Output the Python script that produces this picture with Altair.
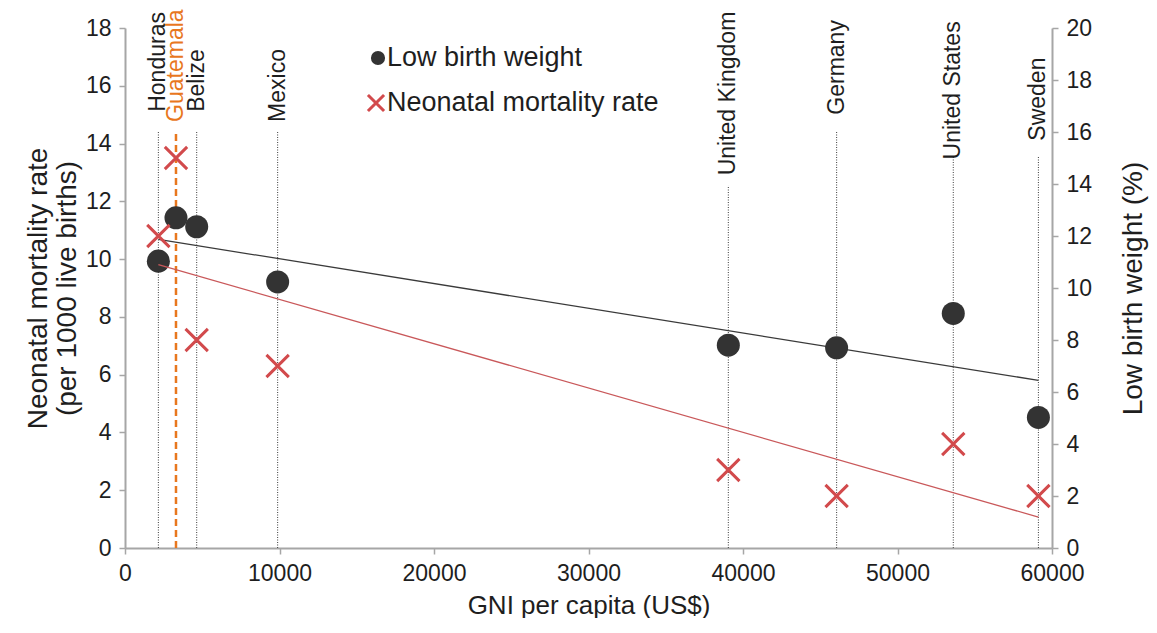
import altair as alt
import pandas as pd

# ---- data ----
countries = ["Honduras", "Guatemala", "Belize", "Mexico",
             "United Kingdom", "Germany", "United States", "Sweden"]
gni_per_capita = [2160, 3300, 4640, 9880, 39050, 46060, 53610, 59120]
low_birth_weight = [9.93, 11.43, 11.12, 9.21, 7.02, 6.93, 8.12, 4.52]   # drawn on the 0-18 scale
neonatal_mortality = [12, 15, 8, 7, 3, 2, 4, 2]                          # drawn on the 0-20 scale
legend_labels = ["Low birth weight", "Neonatal mortality rate"]

# annotation placement (left-axis units): where each label starts / where its guide line stops
label_anchor = [15.1, 14.75, 15.1, 14.75, 12.9, 15.0, 13.45, 14.1]
line_top = [14.4, 14.4, 14.4, 14.4, 12.55, 14.4, 13.55, 13.55]

df = pd.DataFrame({
    "country": countries,
    "gni": gni_per_capita,
    "lbw": low_birth_weight,
    "nmr": neonatal_mortality,
    "label_y": label_anchor,
    "line_top": line_top,
})
df["base"] = 0

FONT = "Liberation Sans"
AXC = "#a6a6a6"
INK = "#1e1e1e"
RED = "#d24a4c"
RED_LINE = "#c9585a"
ORANGE = "#e8771e"
DOT = "#333333"
XPATH = "M-1,-1L1,1M1,-1L-1,1"

x_scale = alt.Scale(domain=[0, 60000], nice=False)
yl = alt.Scale(domain=[0, 18], nice=False)
yr = alt.Scale(domain=[0, 20], nice=False)

x_axis = alt.Axis(values=list(range(0, 60001, 10000)), format="d",
                  title="GNI per capita (US$)", labelFlush=False, labelOverlap=False,
                  labelFontSize=23, titleFontSize=26, labelPadding=8, titlePadding=7,
                  tickSize=6)
left_axis = alt.Axis(values=list(range(0, 19, 2)),
                     title=["Neonatal mortality rate", "(per 1000 live births)"],
                     titleFontSize=28, titleLineHeight=29, titlePadding=4,
                     labelFontSize=23, labelPadding=8, tickSize=6)
right_axis = alt.Axis(orient="right", values=list(range(0, 21, 2)),
                      title="Low birth weight (%)", titleAngle=270, titleBaseline="top",
                      titleFontSize=28, titlePadding=28,
                      labelFontSize=23, labelPadding=8, tickSize=6)

base = alt.Chart(df)

X = alt.X("gni:Q", scale=x_scale, axis=x_axis)


def YL(field):
    return alt.Y(field, type="quantitative", scale=yl, axis=left_axis)


def YR(field):
    return alt.Y(field, type="quantitative", scale=yr, axis=right_axis)


rules = base.transform_filter("datum.country != 'Guatemala'").mark_rule(
    color="#3c3c3c", strokeWidth=1, strokeDash=[1, 1.5]
).encode(x=X, y=YL("base"), y2="line_top:Q")

rule_gt = base.transform_filter("datum.country == 'Guatemala'").mark_rule(
    color=ORANGE, strokeWidth=2.5, strokeDash=[7, 4]
).encode(x=X, y=YL("base"), y2="line_top:Q")

labels = base.mark_text(angle=270, align="left", baseline="middle",
                        fontSize=23, font=FONT).encode(
    x=X,
    y=YL("label_y"),
    text="country:N",
    color=alt.condition("datum.country == 'Guatemala'", alt.value(ORANGE), alt.value(INK)),
)

lbw_fit = base.transform_regression("gni", "lbw").mark_line(
    color="#3a3a3a", strokeWidth=1.3
).encode(x=X, y=YL("lbw"))

dots = base.mark_circle(size=530, color=DOT, opacity=1).encode(x=X, y=YL("lbw"))

leg1 = alt.Chart(pd.DataFrame({"label": [legend_labels[0]]}))
leg_dot = leg1.mark_circle(size=200, color=DOT, opacity=1).encode(
    x=alt.value(253), y=alt.value(30))
leg_t1 = leg1.mark_text(align="left", baseline="middle", fontSize=27, font=FONT, color=INK).encode(
    x=alt.value(262), y=alt.value(30), text="label:N")

left = alt.layer(rules, rule_gt, labels, lbw_fit, dots, leg_dot, leg_t1)

nmr_fit = base.transform_regression("gni", "nmr").mark_line(
    color=RED_LINE, strokeWidth=1.3
).encode(x=X, y=YR("nmr"))

xmarks = base.mark_point(shape=XPATH, size=500, filled=False, strokeWidth=3,
                         color=RED, opacity=1).encode(x=X, y=YR("nmr"))

leg2 = alt.Chart(pd.DataFrame({"label": [legend_labels[1]]}))
leg_x = leg2.mark_point(shape=XPATH, size=260, filled=False, strokeWidth=3,
                        color=RED, opacity=1).encode(x=alt.value(251), y=alt.value(75))
leg_t2 = leg2.mark_text(align="left", baseline="middle", fontSize=27, font=FONT, color=INK).encode(
    x=alt.value(262), y=alt.value(75), text="label:N")

right = alt.layer(nmr_fit, xmarks, leg_x, leg_t2)

chart = alt.layer(left, right).resolve_scale(y="independent").properties(
    width=927, height=520,
    padding={"left": 117, "top": 20, "right": 97, "bottom": 70},
    autosize=alt.AutoSizeParams(type="none"),
    background="white",
).configure_view(strokeWidth=0).configure_axis(
    grid=False, domainColor=AXC, tickColor=AXC, domainWidth=2, tickWidth=1.5,
    labelFont=FONT, titleFont=FONT, labelColor=INK, titleColor=INK,
    titleFontWeight="normal",
)

chart.save("out.html", embed_options={"renderer": "svg", "actions": False})
